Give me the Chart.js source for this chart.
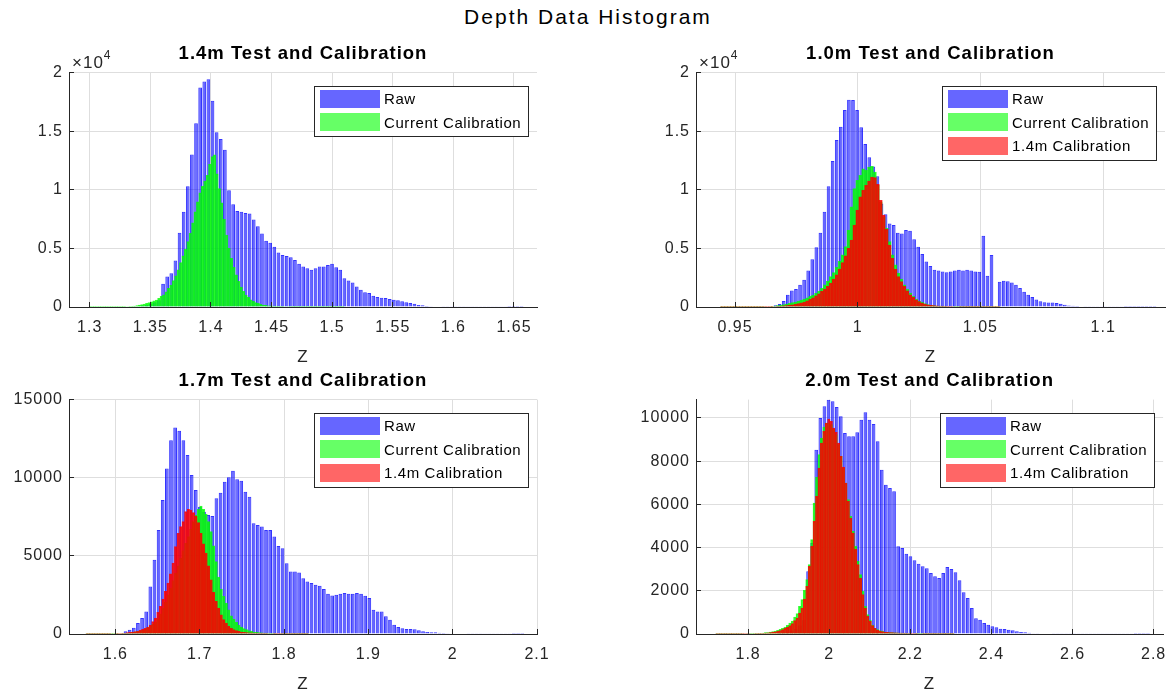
<!DOCTYPE html>
<html>
<head>
<meta charset="utf-8">
<script src="https://cdn.jsdelivr.net/npm/chart.js@4.4.1/dist/chart.umd.min.js"></script>
<style>
    html, body { margin: 0; padding: 0; background: #fff; width: 1176px; height: 691px; overflow: hidden; }
    #suptitle { position: absolute; left: 0; top: 5px; width: 1176px; text-align: center;
        font: 21px 'Liberation Sans', Arial, sans-serif; letter-spacing: 2px; color: #000; }
    canvas { position: absolute; }
</style>
</head>
<body>
<div id="suptitle">Depth Data Histogram</div>
<canvas id="c14" width="588" height="345" style="left:0;top:30px"></canvas>
<canvas id="c10" width="588" height="345" style="left:588px;top:30px"></canvas>
<canvas id="c17" width="588" height="345" style="left:0;top:357px"></canvas>
<canvas id="c20" width="588" height="345" style="left:588px;top:357px"></canvas>
<script>
// ---- histogram counts, bins given by first edge + bin width ----

// 1.4m test
const raw14Edge = 1.335, raw14Bin = 0.0034;
const raw14 = [20, 60, 120, 200, 280, 400, 570, 1980, 2600, 2890, 3960, 6340, 8120, 10300, 13010, 15670, 18730, 19240, 19430, 17600,
    14910, 14340, 13410, 9960, 8770, 8200, 8120, 8030, 7980, 7470, 6900, 6280, 5660, 5490, 5150, 4640, 4440, 4360, 4240, 4020,
    3680, 3450, 3310, 3170, 3310, 3450, 3450, 3590, 3680, 3400, 3170, 2460, 2260, 2090, 1750, 1470, 1250, 1190, 960, 850,
    790, 760, 680, 620, 570, 480, 400, 340, 280, 170, 140, 85, 60, 45, 35, 30, 28, 26, 25, 24,
    22, 20, 20, 18, 18, 16, 15, 15, 14, 12, 12, 10, 10, 8, 8];
const cur14Edge = 1.300, cur14Bin = 0.002;
const cur14 = [10, 10, 12, 12, 15, 15, 18, 18, 20, 22, 25, 28, 30, 32, 35,
    40, 50, 60, 85, 113, 155, 200, 255, 311, 380, 450, 520, 595,
    735, 905, 1047, 1300, 1584, 1867, 2263, 2660, 3168, 3790, 4357, 4922, 5573, 6280, 7186, 8119, 8968, 9732, 10298, 10750, 11231, 12165, 12844, 12986,
    11360, 10100, 8880, 7470, 6140, 5010, 4160, 3395, 2744, 2180, 1700, 1330, 1020, 820, 620, 480, 370, 310, 230, 170, 140, 110, 95, 85,
    70, 60, 55, 50, 45, 40, 38, 35, 32, 30, 28, 25, 22, 20, 20, 18, 18, 15, 15, 12, 12, 10, 10, 10, 8, 8, 8, 6, 6];

// 1.0m test
const raw10Edge = 0.9657, raw10Bin = 0.00166;
const raw10 = [140, 255, 510, 1047, 1415, 1530, 1895, 2320, 3112, 4074,
    5092, 6337, 8119, 10298, 12460, 14258, 15390, 16804, 17681, 17653,
    16804, 15333, 13918, 12787, 11995, 11146, 8826, 7921, 7129, 6988,
    6337, 6280, 6563, 6507, 5771, 5149, 4526, 3876, 3508, 3168,
    3112, 3027, 2970, 3027, 3112, 3168, 3112, 3168, 3112, 3027,
    3000, 6080, 2660, 4440, 0, 2150, 2230, 2200, 2090, 1900,
    1630, 1300, 1050, 850, 650, 500, 400, 390, 380, 340,
    280, 200, 120, 100, 80, 50, 30, 25, 20, 20,
    18, 16, 15, 14, 12, 12, 10, 10, 10, 8, 8, 8, 6, 6];
const cur10Edge = 0.9440, cur10Bin = 0.0012;
const cur10 = [15, 15, 15, 18, 18, 20, 20, 22, 22, 25, 25, 28, 30, 32, 35, 40, 45,
    57, 70, 113, 140, 200, 255, 310, 370, 425, 510, 595, 680, 790,
    905, 1020, 1160, 1360, 1584, 1895, 2207, 2603, 2942, 3395, 3904, 4441, 5149, 6563,
    8544, 10100, 10807, 11231, 11797, 11655, 11938, 11995, 11514, 10382, 8968, 7695, 6705, 5573,
    4441, 3593, 2886, 2376, 1895, 1528, 1188, 905, 680, 510, 396, 283, 198, 141, 113, 85,
    70, 60, 50, 45, 40, 35, 30, 28, 25, 22, 20, 18, 15, 15, 12, 12, 10, 10, 8, 8, 6];
const cal10 = [10, 10, 10, 12, 12, 12, 15, 15, 15, 18, 18, 20, 20, 22, 25, 28, 30, 32, 40, 48, 57,
    100, 127, 155, 184, 226, 283, 354, 424, 537,
    650, 792, 962, 1132, 1330, 1528, 1754, 2037, 2376, 2744, 3225, 3790, 4357, 5007,
    5715, 6988, 8260, 9392, 9958, 10382, 10750, 11090, 11033, 10467, 9109, 7836, 6620, 5290,
    4159, 3225, 2603, 2178, 1754, 1386, 1047, 820, 622, 453, 340, 255, 184, 141, 113,
    95, 80, 70, 60, 55, 50, 45, 40, 38, 35, 32, 30, 28, 25, 22, 20, 18, 15, 12, 10, 8, 6];

// 1.7m test
const raw17Edge = 1.6096, raw17Bin = 0.0049;
const raw17 = [170, 277, 404, 702, 1021, 1447, 3043, 4745, 6661, 8576,
    10597, 12406, 13215, 13002, 12406, 11449, 10172, 9214, 8150, 7831,
    7618, 7554, 8682, 9044, 9746, 10023, 10448, 9895, 9810, 9108,
    8789, 7086, 6980, 6873, 6661, 6661, 6235, 5639, 5490, 4533,
    4000, 4000, 3937, 3575, 3362, 3256, 3149, 3086, 2873, 2575,
    2468, 2511, 2575, 2617, 2575, 2575, 2617, 2575, 2447, 2298,
    1553, 1447, 1447, 1128, 915, 596, 447, 362, 319, 319,
    298, 234, 170, 128, 106, 106, 85, 64, 43, 30,
    28, 26, 24, 22, 20, 20, 18, 16, 15, 14, 12, 12, 10, 10, 8, 8, 6];
const cur17Edge = 1.565, cur17Bin = 0.003;
const cur17 = [8, 8, 10, 10, 12, 12, 15, 15, 18, 20, 22, 25, 28, 32, 36,
    43, 53, 75, 106, 138, 170, 202, 234, 319, 404, 511, 617, 766, 958,
    1298, 1639, 2022, 2511, 2937, 3426, 3894, 4362, 4852, 5341, 5809, 6235, 6703, 7193, 7618, 7980, 8193,
    7980, 7682, 7193, 6554, 5639, 4639, 3639, 2873, 2405, 1979, 1553, 1170, 958, 745, 575, 447, 340, 277, 213, 170, 128, 106, 85, 75,
    64, 55, 48, 42, 38, 34, 30, 27, 24, 21, 18, 16, 14, 12, 10, 9, 8, 6];
const cal17 = [10, 12, 14, 16, 18, 20, 22, 24, 26, 28, 30, 34, 38, 42, 48,
    64, 85, 106, 128, 149, 170, 234, 298, 362, 447, 575, 787, 1021, 1383,
    1766, 2234, 2724, 3256, 3852, 4533, 5597, 6448, 6873, 7193, 7831, 7980, 7938, 7767, 7554, 7129, 6448,
    5767, 5171, 4362, 3469, 2660, 2085, 1660, 1234, 915, 702, 489, 362, 277, 213, 170, 128, 106,
    90, 80, 70, 62, 56, 50, 45, 40, 36, 32, 30, 28, 26, 24, 22, 20, 18, 16, 14, 12, 10, 9, 8, 7, 6];

// 2.0m test
const raw20Edge = 1.872, raw20Bin = 0.0101;
const raw20 = [46, 77, 108, 154, 231, 401, 663, 2901, 4212, 8533,
    9999, 10539, 10847, 10770, 10508, 10076, 9304, 9150, 9150, 9335,
    9921, 10261, 9921, 9721, 8919, 7607, 6913, 6758, 6604, 4058,
    3981, 3719, 3595, 3410, 3256, 3132, 3040, 2824, 2669, 2592,
    2824, 3101, 3009, 2855, 2484, 1929, 1666, 1204, 725, 663,
    509, 432, 355, 309, 247, 231, 200, 170, 123, 93,
    77, 62, 40, 30, 25, 20, 18, 16, 15, 14,
    13, 12, 12, 11, 10, 10, 9, 9, 8, 8, 8, 7, 7, 7, 6, 6, 6, 5, 5, 5, 5];
const cur20Edge = 1.720, cur20Bin = 0.006;
const cur20 = [10, 10, 12, 12, 14, 14, 16, 16, 18, 18, 20, 22, 24, 26, 28, 30, 32, 34, 36, 40,
    62, 69, 85, 108, 131, 170, 216, 262, 324, 401, 509, 602, 787, 941,
    1281, 1589, 2021, 2515, 3209, 4367, 6064, 7268, 8301, 9073, 9582, 9767, 9767, 9690,
    9489, 9227, 8764, 8224, 7684, 6990, 6218, 5447, 4752, 4058, 3364, 2747, 1975, 1281,
    895, 633, 417, 262, 201, 154, 123, 93,
    80, 70, 62, 55, 50, 45, 40, 36, 32, 28, 25, 22, 20, 18, 16, 14, 12, 11, 10, 9, 8, 8, 7, 7, 6, 6, 5, 5];
const cal20 = [10, 10, 10, 12, 12, 12, 14, 14, 16, 16, 18, 18, 20, 20, 22, 24, 26, 28, 30, 34,
    46, 54, 69, 85, 100, 131, 162, 201, 262, 309, 386, 478, 617, 741,
    972, 1204, 1620, 2206, 3132, 4058, 5215, 6373, 7684, 8841, 9381, 9767, 9952, 9844,
    9536, 9335, 8841, 8224, 7730, 6990, 6141, 5370, 4675, 3935, 3209, 2592, 1821, 1204,
    818, 586, 386, 262, 185, 139, 108, 85,
    75, 68, 62, 56, 50, 46, 42, 38, 35, 32, 30, 28, 26, 24, 22, 20, 18, 16, 15, 14, 13, 12, 11, 10, 9, 8, 7, 6];

// y tick values per panel
const yTicks20k = [0, 5000, 10000, 15000, 20000];
const yTicks15k = [0, 5000, 10000, 15000];
const yTicks10k = [0, 2000, 4000, 6000, 8000, 10000];

const LABEL_RAW = 'Raw', LABEL_CUR = 'Current Calibration', LABEL_CAL = '1.4m Calibration';

// ---- looks ----
const FONT = "'Liberation Sans', Arial, Helvetica, sans-serif";
const AXIS_COLOR = '#262626';
Chart.defaults.font.family = FONT;
Chart.defaults.color = AXIS_COLOR;

const barStyle = {
    [LABEL_RAW]: {bg: 'rgba(0,0,255,0.6)', border: 'rgba(0,0,255,0.8)', patch: 'rgb(102,102,255)', order: 3, pct: 0.9},
    [LABEL_CUR]: {bg: 'rgba(0,255,0,0.6)', border: 'rgba(0,255,0,0.8)', patch: 'rgb(102,255,102)', order: 2, pct: 1},
    [LABEL_CAL]: {bg: 'rgba(255,0,0,0.6)', border: 'rgba(250,0,0,0.85)', patch: 'rgb(255,102,102)', order: 1, pct: 1}
};

function toBins(edge, width, counts) {
    return counts.map((c, i) => ({x: edge + width * (i + 0.5), y: c}));
}

// MATLAB-ish extras: inward ticks, x10^4 multiplier, boxed legend
const matlabLook = {
    id: 'matlabLook',
    beforeDraw(chart) {
        chart.ctx.letterSpacing = '1px';
    },
    afterDraw(chart, args, opts) {
        const ctx = chart.ctx;
        const a = chart.chartArea;
        const sx = chart.scales.x, sy = chart.scales.y;
        const al = p => Math.round(p - 0.5) + 0.5;
        ctx.save();
        ctx.strokeStyle = AXIS_COLOR;
        ctx.lineWidth = 1;
        ctx.beginPath();
        sx.ticks.forEach((t, i) => {
            const px = al(sx.getPixelForTick(i));
            ctx.moveTo(px, a.bottom);
            ctx.lineTo(px, a.bottom - 5);
        });
        sy.ticks.forEach((t, i) => {
            const py = al(sy.getPixelForTick(i));
            ctx.moveTo(a.left, py);
            ctx.lineTo(a.left + 5, py);
        });
        ctx.stroke();

        if (opts.exponent) {
            ctx.fillStyle = AXIS_COLOR;
            ctx.textBaseline = 'alphabetic';
            ctx.textAlign = 'left';
            ctx.letterSpacing = '1px';
            ctx.font = '17px ' + FONT;
            const base = '\u00d710';
            ctx.fillText(base, a.left + 3, a.top - 4.5);
            const w = ctx.measureText(base).width;
            ctx.font = '12px ' + FONT;
            ctx.fillText(opts.exponent, a.left + 3 + w, a.top - 13.5);
        }

        // legend box in the upper right corner
        const items = chart.data.datasets.map(d => d.label);
        ctx.font = '15px ' + FONT;
        ctx.letterSpacing = '0.6px';
        const textW = Math.max(...items.map(s => ctx.measureText(s).width));
        const boxW = Math.round(70 + textW + 7);
        const boxH = Math.round(items.length * 23.4 + 3.5);
        const right = Math.round(a.right - 9), top = Math.round(a.top + 13.5);
        const left = right - boxW;
        ctx.fillStyle = '#fff';
        ctx.fillRect(left, top, boxW, boxH);
        ctx.strokeStyle = AXIS_COLOR;
        ctx.strokeRect(left + 0.5, top + 0.5, boxW, boxH);
        items.forEach((label, i) => {
            const cy = top + 13 + 23.4 * i;
            const st = barStyle[label];
            ctx.fillStyle = st.patch;
            ctx.fillRect(left + 6, Math.round(cy - 9), 60, 18);
            ctx.fillStyle = '#000';
            ctx.textBaseline = 'middle';
            ctx.fillText(label, left + 70, cy + 1);
        });
        ctx.restore();
    }
};

function makeChart(id, opt) {
    const datasets = opt.series.map((s, i) => {
        const st = barStyle[s.label];
        return {
            label: s.label,
            data: toBins(s.edge, s.bin, s.counts),
            xAxisID: i ? 'x' + i : 'x',
            backgroundColor: st.bg,
            borderColor: st.border,
            borderWidth: 1,
            order: st.order,
            grouped: false,
            barPercentage: st.pct,
            categoryPercentage: 1
        };
    });

    const scales = {
        x: {
            type: 'linear', min: opt.xMin, max: opt.xMax, offset: false,
            grid: {color: '#dedede', drawTicks: false, offset: false},
            border: {display: true, color: AXIS_COLOR, width: 1},
            ticks: {
                stepSize: opt.xStep, includeBounds: false, autoSkip: false, maxRotation: 0,
                padding: 11, font: {size: 16}, color: AXIS_COLOR,
                callback: v => String(Math.round(v * 1000) / 1000)
            },
            title: {display: true, text: 'Z', font: {size: 17}, color: AXIS_COLOR, padding: {top: 0, bottom: 7}},
            afterFit: s => { s.height = 68; }
        },
        y: {
            min: 0, max: opt.yMax,
            grid: {color: '#dedede', drawTicks: false},
            border: {display: true, color: AXIS_COLOR, width: 1},
            ticks: {
                padding: 6, font: {size: 16}, color: AXIS_COLOR,
                callback: opt.yLabel
            },
            afterBuildTicks: s => { s.ticks = opt.yTicks.map(v => ({value: v})); },
            afterFit: s => { s.width = opt.leftW; }
        }
    };
    for (let i = 1; i < opt.series.length; i++) {
        scales['x' + i] = {type: 'linear', display: false, min: opt.xMin, max: opt.xMax, offset: false, grid: {offset: false}};
    }

    return new Chart(document.getElementById(id), {
        type: 'bar',
        data: {datasets: datasets},
        options: {
            responsive: false,
            animation: false,
            devicePixelRatio: 1,
            layout: {padding: {left: 0, right: opt.rightPad, top: 0, bottom: 0}},
            scales: scales,
            plugins: {
                legend: {display: false},
                tooltip: {enabled: false},
                title: {
                    display: true, fullSize: false, text: opt.title, color: '#000',
                    font: {size: 18.5, weight: 'bold'}, padding: {top: 13.2, bottom: 7.2}
                },
                matlabLook: {exponent: opt.exponent}
            }
        },
        plugins: [matlabLook]
    });
}

const perTenThousand = v => String(v / 1e4);
const plain = v => String(v);

makeChart('c14', {
    title: '1.4m Test and Calibration',
    xMin: 1.2829, xMax: 1.669, xStep: 0.05, yMax: 20000, yTicks: yTicks20k, yLabel: perTenThousand, exponent: '4',
    leftW: 69, rightPad: 51,
    series: [
        {label: LABEL_RAW, edge: raw14Edge, bin: raw14Bin, counts: raw14},
        {label: LABEL_CUR, edge: cur14Edge, bin: cur14Bin, counts: cur14}
    ]
});
makeChart('c10', {
    title: '1.0m Test and Calibration',
    xMin: 0.9341, xMax: 1.1252, xStep: 0.05, yMax: 20000, yTicks: yTicks20k, yLabel: perTenThousand, exponent: '4',
    leftW: 108, rightPad: 11,
    series: [
        {label: LABEL_RAW, edge: raw10Edge, bin: raw10Bin, counts: raw10},
        {label: LABEL_CUR, edge: cur10Edge, bin: cur10Bin, counts: cur10},
        {label: LABEL_CAL, edge: cur10Edge, bin: cur10Bin, counts: cal10}
    ]
});
makeChart('c17', {
    title: '1.7m Test and Calibration',
    xMin: 1.545, xMax: 2.1, xStep: 0.1, yMax: 15000, yTicks: yTicks15k, yLabel: plain, exponent: null,
    leftW: 69, rightPad: 51,
    series: [
        {label: LABEL_RAW, edge: raw17Edge, bin: raw17Bin, counts: raw17},
        {label: LABEL_CUR, edge: cur17Edge, bin: cur17Bin, counts: cur17},
        {label: LABEL_CAL, edge: cur17Edge, bin: cur17Bin, counts: cal17}
    ]
});
makeChart('c20', {
    title: '2.0m Test and Calibration',
    xMin: 1.6714, xMax: 2.8234, xStep: 0.2, yMax: 10850, yTicks: yTicks10k, yLabel: plain, exponent: null,
    leftW: 108, rightPad: 11,
    series: [
        {label: LABEL_RAW, edge: raw20Edge, bin: raw20Bin, counts: raw20},
        {label: LABEL_CUR, edge: cur20Edge, bin: cur20Bin, counts: cur20},
        {label: LABEL_CAL, edge: cur20Edge, bin: cur20Bin, counts: cal20}
    ]
});
</script>
</body>
</html>
